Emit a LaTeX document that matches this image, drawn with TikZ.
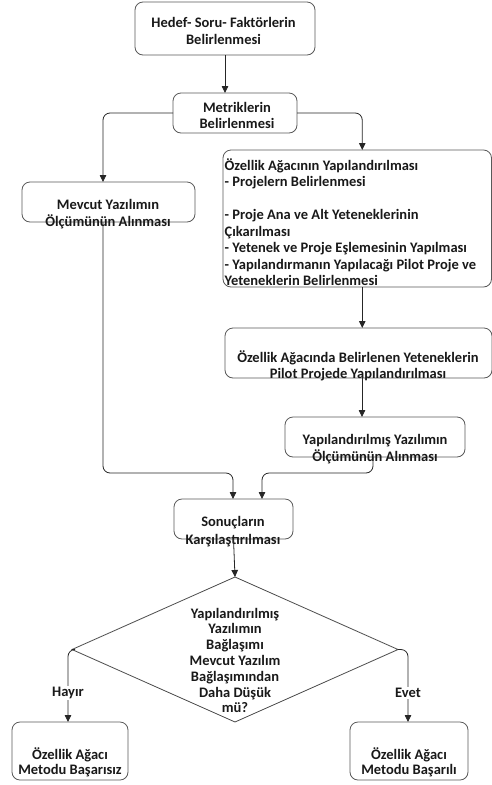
\documentclass[tikz,border=0pt]{standalone}
\usepackage{fontspec}
\setmainfont{Carlito}
\usetikzlibrary{shapes.geometric,arrows.meta,calc}
\begin{document}
\begin{tikzpicture}[x=1pt,y=-1pt,
  box/.style={draw=black!65, line width=0.8pt, rounded corners=8pt, inner sep=0, outer sep=0},
  txt/.style={font=\bfseries\fontsize{14.5}{16}\selectfont, align=center, inner sep=0, text=black!90},
  arr/.style={draw=black!85, line width=0.8pt, rounded corners=7pt, -{Triangle[width=6.5pt,length=7pt]}},
  lbl/.style={font=\bfseries\fontsize{14.5}{16}\selectfont, fill=white, inner sep=1pt, text=black!90}]
\useasboundingbox (0,0) rectangle (492,785);
\fill[white] (0,0) rectangle (492,785);
% boxes
\node[box, minimum width=180pt, minimum height=53pt] (hedef) at (225,28.5) {};
\node[box, minimum width=124pt, minimum height=40pt] (metrik) at (235,113) {};
\node[box, minimum width=173pt, minimum height=40pt] (mevcut) at (108.5,202) {};
\node[box, minimum width=268.5pt, minimum height=137pt] (oz) at (357.25,218.5) {};
\node[box, minimum width=267pt, minimum height=50pt] (ozp) at (358.5,353) {};
\node[box, minimum width=180pt, minimum height=40pt] (yap) at (375,437) {};
\node[box, minimum width=119pt, minimum height=40pt] (sonuc) at (233.5,519) {};
\node[draw=black!70, line width=0.8pt, shape=diamond, inner sep=0, outer sep=0, minimum width=326pt, minimum height=145pt] (dia) at (235,649.5) {};
\node[box, minimum width=116pt, minimum height=58pt] (basarisiz) at (70,751) {};
\node[box, minimum width=118pt, minimum height=58pt] (basarili) at (409,751) {};
% texts
\node[txt] (t1) at (223.5,30.5) {Hedef- Soru- Faktörlerin\\[1pt]Belirlenmesi};
\node[txt] (t2) at (237,115.5) {Metriklerin\\Belirlenmesi};
\node[txt] (t3) at (108,214) {Mevcut Yazılımın\\[1pt]Ölçümünün Alınması};
\node[txt, align=left, anchor=north west, font=\bfseries\fontsize{14.5}{16.5}\selectfont] (t4) at (224.5,158) {Özellik Ağacının Yapılandırılması\\- Projelern Belirlenmesi\\[16.5pt]- Proje Ana ve Alt Yeteneklerinin\\Çıkarılması\\- Yetenek ve Proje Eşlemesinin Yapılması\\- Yapılandırmanın Yapılacağı Pilot Proje ve\\Yeteneklerin Belirlenmesi};
\node[txt] (t5) at (358,366) {Özellik Ağacında Belirlenen Yeteneklerin\\Pilot Projede Yapılandırılması};
\node[txt] (t6) at (375,449) {Yapılandırılmış Yazılımın\\[1pt]Ölçümünün Alınması};
\node[txt] (t7) at (233,532) {Sonuçların\\[2pt]Karşılaştırılması};
\node[txt, font=\bfseries\fontsize{14.5}{15.8}\selectfont] (t8) at (235,660.5) {Yapılandırılmış\\Yazılımın\\Bağlaşımı\\Mevcut Yazılım\\Bağlaşımından\\Daha Düşük\\mü?};
\node[txt, font=\bfseries\fontsize{14.5}{15}\selectfont] (t9) at (70,762.5) {Özellik Ağacı\\Metodu Başarısız};
\node[txt, font=\bfseries\fontsize{14.5}{15}\selectfont] (t10) at (409,762.5) {Özellik Ağacı\\Metodu Başarılı};
% junctions
\coordinate (j1) at (233,473);
\coordinate (j2) at (262,473);
% connectors
\draw[arr] (hedef.south) -- (hedef.south |- metrik.north);
\draw[arr] (metrik.west) -| ([xshift=-5.5pt]mevcut.north);
\draw[arr] (metrik.east) -| ([xshift=5pt]oz.north);
\draw[arr] ([xshift=5pt]oz.south) -- ([xshift=5pt]oz.south |- ozp.north);
\draw[arr] ([xshift=3.5pt]ozp.south) -- ([xshift=3.5pt]ozp.south |- yap.north);
\draw[arr] ([xshift=-5.5pt]mevcut.south) |- (j1) -- (j1 |- sonuc.north);
\draw[arr] ([xshift=-2pt]yap.south) |- (j2) -- (j2 |- sonuc.north);
\draw[arr] (sonuc.south) -- (dia.north);
\draw[arr] (dia.west) -| ([xshift=-2pt]basarisiz.north);
\draw[arr] (dia.east) -| ([xshift=-1pt]basarili.north);
% labels
\node[lbl] (hayir) at (68,693) {Hayır};
\node[lbl] (evet) at (408,693) {Evet};
\end{tikzpicture}
\end{document}
